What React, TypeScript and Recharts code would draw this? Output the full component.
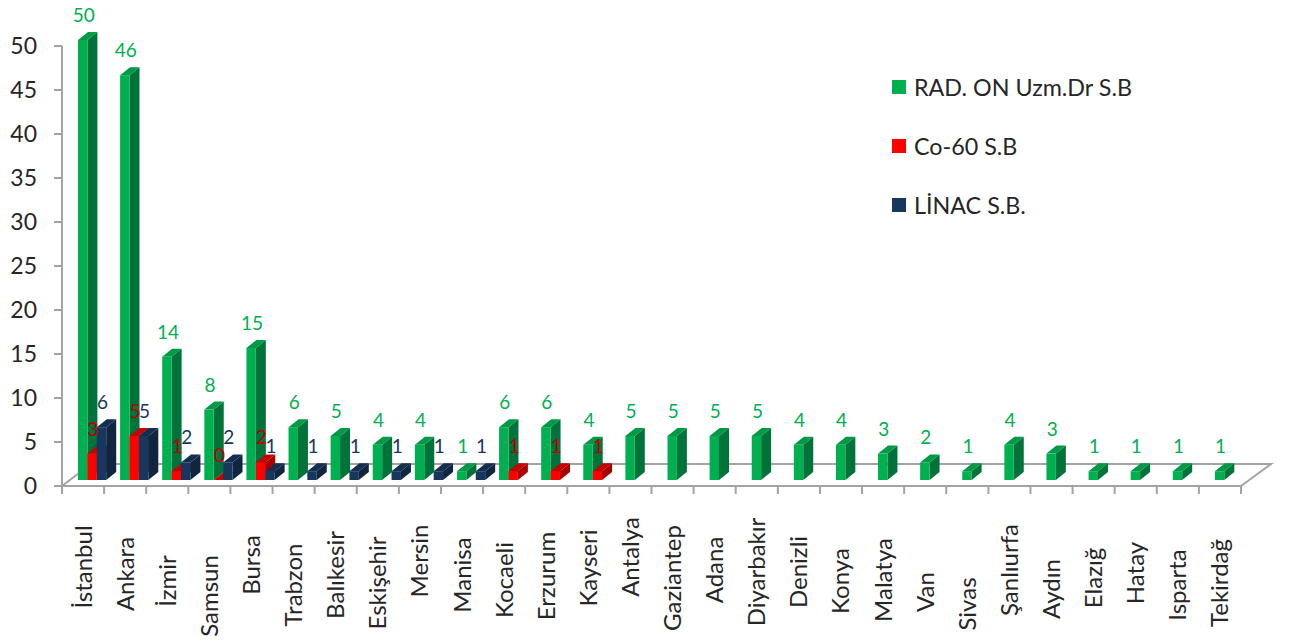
// App.tsx
import React from "react";
import { BarChart, Bar, XAxis, YAxis, LabelList, Legend } from "recharts";

const cities = [
  "İstanbul", "Ankara", "İzmir", "Samsun", "Bursa", "Trabzon", "Balıkesir",
  "Eskişehir", "Mersin", "Manisa", "Kocaeli", "Erzurum", "Kayseri", "Antalya",
  "Gaziantep", "Adana", "Diyarbakır", "Denizli", "Konya", "Malatya", "Van",
  "Sivas", "Şanlıurfa", "Aydın", "Elazığ", "Hatay", "Isparta", "Tekirdağ",
];
const radOn = [50, 46, 14, 8, 15, 6, 5, 4, 4, 1, 6, 6, 4, 5, 5, 5, 5, 4, 4, 3, 2, 1, 4, 3, 1, 1, 1, 1];
const co60 = [3, 5, 1, 0, 2, null, null, null, null, null, 1, 1, 1, null, null, null, null, null, null, null, null, null, null, null, null, null, null, null];
const linac = [6, 5, 2, 2, 1, 1, 1, 1, 1, 1, null, null, null, null, null, null, null, null, null, null, null, null, null, null, null, null, null, null];
const yTicks = [0, 5, 10, 15, 20, 25, 30, 35, 40, 45, 50];

const data = cities.map((name, i) => ({
  name,
  radOn: radOn[i],
  co60: co60[i],
  linac: linac[i],
}));

// the city labels are staggered in the original: middle of each rotated label, in px
const cityLabelMiddle = [
  567, 574, 581, 596, 565, 585, 575, 583, 561, 575, 580, 576, 568, 557,
  578, 570, 572, 572, 581, 580, 592, 604, 570, 589, 578, 573, 585, 583,
];

const FONT = "Lato, sans-serif";
const GRAY = "#a3a3a3";
const TEXT = "#262626";

// fake 3D: the bars sit shifted from the axes, as on a floor
const SHIFT_X = 9;
const SHIFT_Y = -6;
const DEPTH_X = 10;
const DEPTH_Y = 8;
const BAND = 42.1;

const Bar3D = (side: string, top: string) => (props: any) => {
  const { x, y, width, height, fill } = props;
  if (height == null || isNaN(height)) return null;
  const l = x + SHIFT_X;
  const r = l + width;
  const t = y + SHIFT_Y;
  const b = t + height;
  return (
    <g>
      <polygon
        points={`${r},${b} ${r + DEPTH_X},${b - DEPTH_Y} ${r + DEPTH_X},${t - DEPTH_Y} ${r},${t}`}
        fill={side}
      />
      <polygon
        points={`${l},${t} ${l + DEPTH_X},${t - DEPTH_Y} ${r + DEPTH_X},${t - DEPTH_Y} ${r},${t}`}
        fill={top}
      />
      <rect x={l} y={t} width={width} height={height} fill={fill} />
    </g>
  );
};

const valueLabel = (color: string) => (props: any) => {
  const { x, y, width, value } = props;
  if (value == null) return null;
  return (
    <text
      x={x + width / 2 + SHIFT_X + 1}
      y={y + SHIFT_Y - 18}
      fill={color}
      fontSize={19}
      fontFamily={FONT}
      textAnchor="middle"
    >
      {value}
    </text>
  );
};

const CityTick = (props: any) => {
  const { x, payload, index } = props;
  const last = index === cities.length - 1;
  return (
    <g>
      <line x1={x - BAND / 2} x2={x - BAND / 2} y1={486} y2={494} stroke={GRAY} strokeWidth={2} />
      {last && <line x1={x + BAND / 2} x2={x + BAND / 2} y1={486} y2={494} stroke={GRAY} strokeWidth={2} />}
      <text
        transform={`translate(${x + 8.5},${cityLabelMiddle[index]}) rotate(-90)`}
        textAnchor="middle"
        fontSize={24}
        fontFamily={FONT}
        fill={TEXT}
      >
        {payload.value}
      </text>
    </g>
  );
};

const Floor = () => (
  <g stroke={GRAY} strokeWidth={2} fill="none">
    <polyline points="62,486 91,464 1271,464 1241,486" />
  </g>
);

const LegendBox = ({ payload }: any) => (
  <div style={{ fontFamily: FONT, fontSize: 23.3, color: TEXT }}>
    {(payload || []).map((p: any) => (
      <div key={p.value} style={{ height: 59, display: "flex", alignItems: "flex-start" }}>
        <span style={{ width: 14, height: 14, marginTop: 7, marginRight: 8, background: p.color }} />
        <span style={{ lineHeight: "28px", whiteSpace: "nowrap" }}>{p.value}</span>
      </div>
    ))}
  </div>
);

const App = () => {
  return (
    <div style={{ position: "absolute", left: 0, top: 0, width: 1290, height: 640, background: "#fff" }}>
      <BarChart
        width={1290}
        height={640}
        data={data}
        margin={{ top: 46, right: 49, bottom: 4, left: 0 }}
        barCategoryGap={7}
        barGap={0}
      >
        <Floor />
        <XAxis
          dataKey="name"
          height={150}
          interval={0}
          tickLine={false}
          axisLine={{ stroke: GRAY, strokeWidth: 2 }}
          tick={<CityTick />}
        />
        <YAxis
          width={62}
          domain={[0, 50]}
          ticks={yTicks}
          interval={0}
          tickSize={8}
          tickMargin={17}
          tickLine={{ stroke: GRAY, strokeWidth: 2 }}
          axisLine={{ stroke: GRAY, strokeWidth: 2 }}
          tick={{ fontSize: 23, fontFamily: FONT, fill: TEXT }}
        />
        <Legend
          layout="vertical"
          align="center"
          verticalAlign="middle"
          itemSorter={null}
          wrapperStyle={{ left: 892, top: 73, width: 260, bottom: "auto" }}
          content={<LegendBox />}
        />
        <Bar
          dataKey="radOn"
          name="RAD. ON Uzm.Dr S.B"
          fill="#00b050"
          barSize={9.4}
          isAnimationActive={false}
          shape={Bar3D("#00733a", "#009a46")}
        >
          <LabelList dataKey="radOn" content={valueLabel("#00b050")} />
        </Bar>
        <Bar
          dataKey="co60"
          name="Co-60 S.B"
          fill="#ff0000"
          barSize={9.4}
          isAnimationActive={false}
          shape={Bar3D("#a80000", "#c80000")}
        >
          <LabelList dataKey="co60" content={valueLabel("#c00000")} />
        </Bar>
        <Bar
          dataKey="linac"
          name="LİNAC S.B."
          fill="#17375e"
          barSize={9.4}
          isAnimationActive={false}
          shape={Bar3D("#10253f", "#132e50")}
        >
          <LabelList dataKey="linac" content={valueLabel("#17375e")} />
        </Bar>
      </BarChart>
    </div>
  );
};

export default App;
